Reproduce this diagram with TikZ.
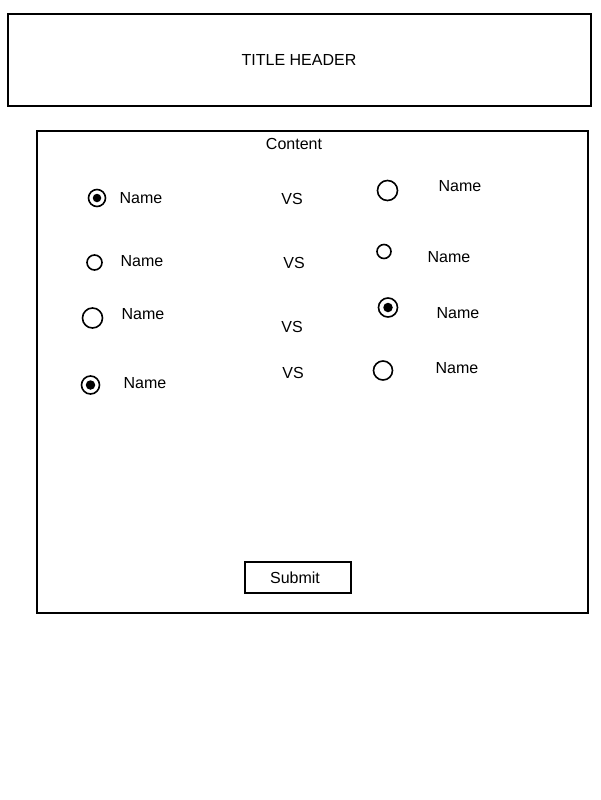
\documentclass[tikz,border=0pt]{standalone}
\usepackage{fontspec}
\setmainfont{Liberation Sans}
\begin{document}
\begin{tikzpicture}[x=1pt,y=-1pt,
  frame/.style={draw=black,line width=1.6pt},
  lbl/.style={font=\fontsize{16}{19}\selectfont,inner sep=0pt,anchor=center},
  radio/.style={circle,draw=black,line width=1.6pt,inner sep=0pt,minimum size=#1},
  dot/.style={circle,fill=black,inner sep=0pt,minimum size=#1}]
\useasboundingbox (0,0) rectangle (600,800);
% header
\node[frame,minimum width=583pt,minimum height=92pt,inner sep=0pt] (header) at (299.5,60) {};
\node[lbl] (title) at (299,60) {TITLE HEADER};
% content
\node[frame,minimum width=551pt,minimum height=482pt,inner sep=0pt] (content) at (312.5,372) {};
\node[lbl] (ctitle) at (294,144) {Content};
% left column
\node[radio=17pt] (l1) at (97,198) {};
\node[dot=8.5pt] (l1d) at (l1) {};
\node[radio=15pt] (l2) at (94.5,262.5) {};
\node[radio=20pt] (l3) at (92.5,318) {};
\node[radio=18pt] (l4) at (90.5,385) {};
\node[dot=9.5pt] (l4d) at (l4) {};
\node[lbl] (n1) at (141,198) {Name};
\node[lbl] (n2) at (142,261) {Name};
\node[lbl] (n3) at (143,314) {Name};
\node[lbl] (n4) at (145,383) {Name};
% vs
\node[lbl] (v1) at (292,199) {VS};
\node[lbl] (v2) at (294,263) {VS};
\node[lbl] (v3) at (292,327) {VS};
\node[lbl] (v4) at (293,373) {VS};
% right column
\node[radio=20pt] (r1) at (387.5,190.5) {};
\node[radio=14pt] (r2) at (384,251.5) {};
\node[radio=19pt] (r3) at (388,307.5) {};
\node[dot=9.5pt] (r3d) at (r3) {};
\node[radio=19pt] (r4) at (383,370.5) {};
\node[lbl] (m1) at (460,186) {Name};
\node[lbl] (m2) at (449,257) {Name};
\node[lbl] (m3) at (458,313) {Name};
\node[lbl] (m4) at (457,368) {Name};
% submit
\node[frame,minimum width=106pt,minimum height=31pt,inner sep=0pt] (submit) at (298,577.5) {};
\node[lbl] (st) at (295,578) {Submit};
\end{tikzpicture}
\end{document}
